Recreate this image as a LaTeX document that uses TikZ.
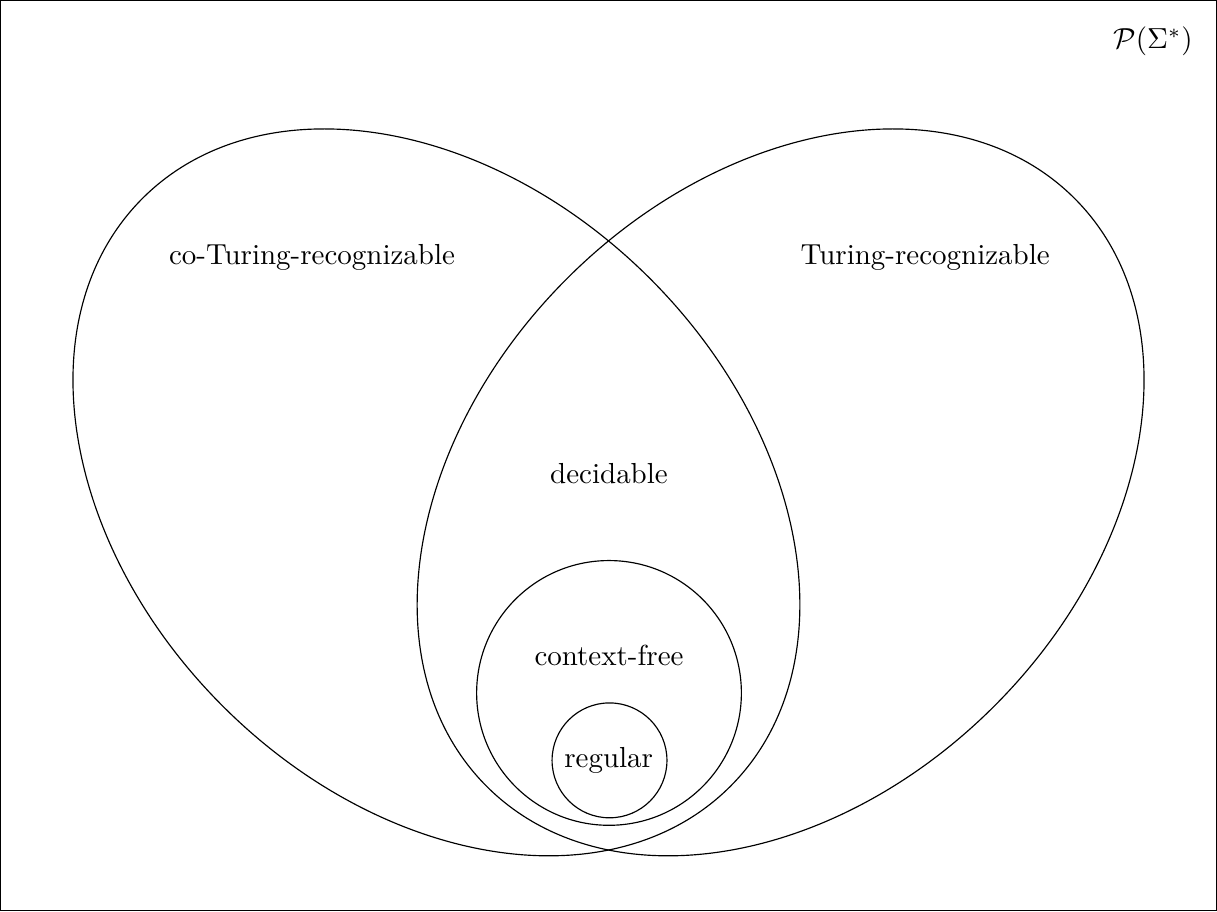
\documentclass[tikz,border=0pt]{standalone}
\begin{document}
\begin{tikzpicture}[x=0.01212cm, y=0.01212cm,
  lbl/.style={inner sep=0pt, anchor=base},
  set/.style={draw=black, line width=0.4pt}]
\draw[set] (0,0) rectangle (1217,911);
\useasboundingbox (0,0) rectangle (1217,911);
% co-Turing-recognizable ellipse (left) and Turing-recognizable ellipse (right)
\draw[set, rotate around={-45:(436.25,418.75)}] (436.25,418.75) ellipse [x radius=416.1, y radius=302.5];
\draw[set, rotate around={45:(780.75,418.75)}] (780.75,418.75) ellipse [x radius=416.1, y radius=302.5];
% context-free and regular circles
\draw[set] (609,218) circle [radius=132.5];
\draw[set] (609.5,150.5) circle [radius=57.5];
% labels
\node[lbl] (univ) at (1153.5,863) {$\mathcal{P}(\Sigma^*)$};
\node[lbl] (coTR) at (311.7,647) {co-Turing-recognizable};
\node[lbl] (TR) at (925.5,647) {Turing-recognizable};
\node[lbl] (dec) at (609,428) {decidable};
\node[lbl] (cf) at (609,245) {context-free};
\node[lbl] (reg) at (608.7,143) {regular};
\end{tikzpicture}
\end{document}
